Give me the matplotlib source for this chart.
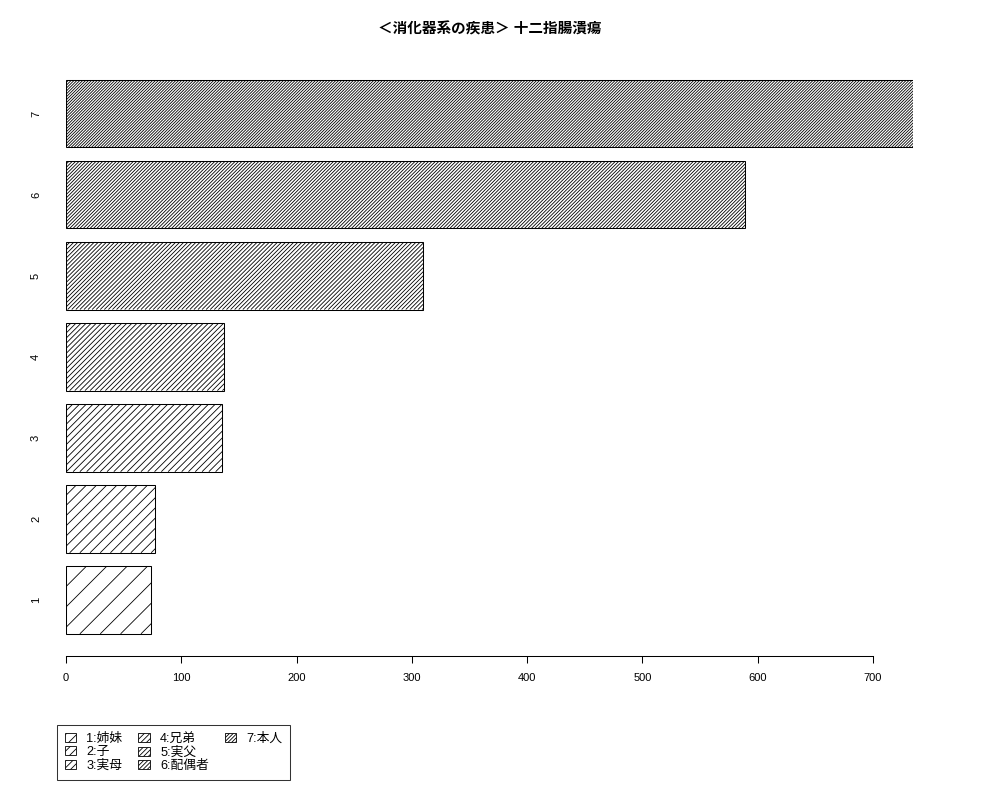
import numpy as np
import matplotlib
matplotlib.use("Agg")
import matplotlib.pyplot as plt
from matplotlib.collections import LineCollection
from matplotlib.patches import Rectangle
from matplotlib.transforms import IdentityTransform

plt.rcParams["font.family"] = ["Liberation Sans", "Noto Sans CJK JP", "DejaVu Sans"]

TITLE = "＜消化器系の疾患＞ 十二指腸潰瘍"
CATEGORIES = ["1", "2", "3", "4", "5", "6", "7"]
VALUES = [74, 77, 135, 137, 310, 589, 735]
LEGEND_LABELS = ["1:姉妹", "2:子", "3:実母", "4:兄弟", "5:実父", "6:配偶者", "7:本人"]
XTICKS = [0, 100, 200, 300, 400, 500, 600, 700]

# hatch density per bar, lines per inch as R draws them (72 px/inch)
DENSITY = [5, 10, 15, 20, 25, 30, 35]
LEG_HATCH = ["///", "////", "/////", "//////", "///////", "////////", "/////////"]

W, H = 1000, 800
fig = plt.figure(figsize=(W / 100, H / 100), dpi=100)
# plot region in pixels: x 0->66, 735->913 ; y bottom 656, top 58
ax = fig.add_axes([66 / W, 1 - 656 / H, (913.3 - 66) / W, (656 - 57.6) / H])
ax.set_xlim(0, 735)
ax.set_ylim(-0.128, 8.728)

pos = [1.2 * (i + 1) - 0.5 for i in range(len(VALUES))]
bars = ax.barh(pos, VALUES, height=1.0, color="white", edgecolor="black",
               linewidth=0.75, zorder=2)


def hatch_bar(ax, patch, density):
    bb = patch.get_window_extent()
    x0, y0, x1, y1 = bb.x0, bb.y0, bb.x1, bb.y1
    step = 72.0 / density * np.sqrt(2)
    h = y1 - y0
    segs = []
    c = x0 - h
    while c < x1:
        segs.append([(c, y0), (c + h, y1)])
        c += step
    lc = LineCollection(segs, colors="black", linewidths=0.6,
                        transform=IdentityTransform(), zorder=3)
    ax.add_collection(lc, autolim=False)
    # clip to the bar (set after adding, the axes would override it)
    lc.set_clip_path(patch)


for b, d in zip(bars, DENSITY):
    hatch_bar(ax, b, d)

for s in ["top", "right", "left"]:
    ax.spines[s].set_visible(False)
ax.spines["bottom"].set_bounds(0, 700)
ax.spines["bottom"].set_linewidth(0.75)
ax.set_xticks(XTICKS)
ax.set_xticklabels([str(t) for t in XTICKS])
ax.tick_params(axis="x", length=5, width=0.75, pad=7, labelsize=8)
ax.set_yticks(pos)
ax.set_yticklabels(CATEGORIES, rotation=90, va="center")
ax.tick_params(axis="y", length=0, pad=18, labelsize=8)

fig.text(489.6 / W, 1 - 29 / H, TITLE, ha="center", va="center",
         fontsize=10.5, fontweight="bold")

plt.rcParams["hatch.linewidth"] = 0.6
handles = [Rectangle((0, 0), 1, 1, facecolor="white", edgecolor="black",
                     linewidth=0.6, hatch=h) for h in LEG_HATCH]
labels = list(LEGEND_LABELS)
blank = Rectangle((0, 0), 1, 1, visible=False)
handles += [blank, blank]
labels += ["", ""]
leg = fig.legend(handles, labels, ncol=3, loc="upper left",
                 bbox_to_anchor=(57 / W, 1 - 725 / H), borderaxespad=0,
                 fontsize=9.2, frameon=True, fancybox=False,
                 handlelength=0.9, handleheight=0.7, handletextpad=0.8,
                 columnspacing=1.25, labelspacing=0.12, borderpad=0.6)
leg.get_frame().set_edgecolor("black")
leg.get_frame().set_linewidth(0.75)

fig.savefig("out.png", dpi=100)
